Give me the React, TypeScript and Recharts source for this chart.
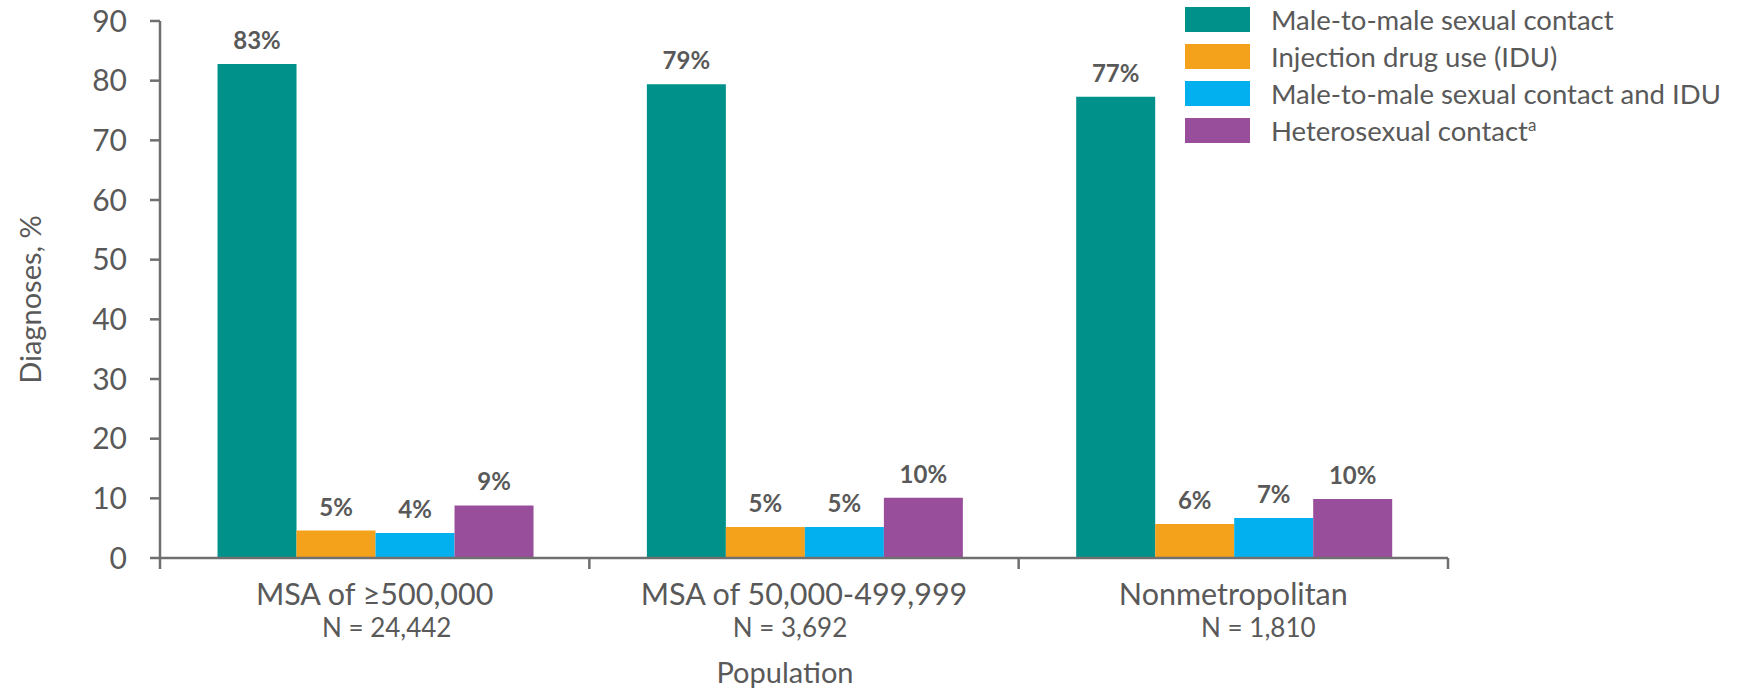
import { BarChart, Bar, XAxis, YAxis, Legend, LabelList } from "recharts";

const categories = ["MSA of ≥500,000", "MSA of 50,000-499,999", "Nonmetropolitan"];
const sampleSizes = ["N = 24,442", "N = 3,692", "N = 1,810"];
const maleToMale = [82.8, 79.4, 77.3];
const injectionDrugUse = [4.6, 5.2, 5.7];
const maleToMaleAndIdu = [4.2, 5.2, 6.7];
const heterosexual = [8.8, 10.1, 9.9];
const yTicks = [0, 10, 20, 30, 40, 50, 60, 70, 80, 90];

const seriesNames = [
    "Male-to-male sexual contact",
    "Injection drug use (IDU)",
    "Male-to-male sexual contact and IDU",
    "Heterosexual contact",
];
const seriesKeys = ["msm", "idu", "msmIdu", "hetero"];
const seriesColors = ["#00918A", "#F4A11C", "#02B0EF", "#984E9B"];

const data = categories.map((name, i) => ({
    name,
    n: sampleSizes[i],
    msm: maleToMale[i],
    idu: injectionDrugUse[i],
    msmIdu: maleToMaleAndIdu[i],
    hetero: heterosexual[i],
}));

const FONT = "Lato, 'Open Sans', sans-serif";
const TEXT = "#595959";
const AXIS = "#6f6f6f";
// small shifts of the "N = ..." lines, as in the original slide
const nShift = [12, -14, 25];

function CategoryTick(props: any) {
    const { x, y, payload, index, width, visibleTicksCount } = props;
    const half = width / visibleTicksCount / 2;
    const row = data[index];
    return (
        <g>
            <line x1={x - half} y1={y} x2={x - half} y2={y + 11} stroke={AXIS} strokeWidth={2.5} />
            {index === visibleTicksCount - 1 && (
                <line x1={x + half} y1={y} x2={x + half} y2={y + 11} stroke={AXIS} strokeWidth={2.5} />
            )}
            <text x={x} y={y + 47} textAnchor="middle" fill={TEXT} fontSize={30.5} fontFamily={FONT}>
                {payload.value}
            </text>
            <text x={x + nShift[index]} y={y + 79} textAnchor="middle" fill={TEXT} fontSize={26} fontFamily={FONT}>
                {row ? row.n : ""}
            </text>
        </g>
    );
}

function LegendContent() {
    return (
        <div style={{ fontFamily: FONT }}>
            {seriesNames.map((name, i) => (
                <div key={name} style={{ display: "flex", alignItems: "center", height: 37 }}>
                    <span style={{ width: 65, height: 25, background: seriesColors[i], display: "inline-block", marginRight: 21 }} />
                    <span style={{ fontSize: 27.5, color: TEXT, whiteSpace: "nowrap" }}>
                        {i === 3 ? (
                            <>
                                {name}
                                <sup style={{ fontSize: 17 }}>a</sup>
                            </>
                        ) : (
                            name
                        )}
                    </span>
                </div>
            ))}
        </div>
    );
}

function App() {
    return (
        <div style={{ position: "absolute", left: 0, top: 0, background: "#fff" }}>
            <BarChart
                width={1746}
                height={691}
                data={data}
                margin={{ top: 21, right: 298, bottom: 43, left: 0 }}
                barCategoryGap="13.4%"
                barGap={0}
            >
                <YAxis
                    width={160}
                    domain={[0, 90]}
                    ticks={yTicks}
                    interval={0}
                    tickSize={10}
                    tickMargin={23}
                    axisLine={{ stroke: AXIS, strokeWidth: 2.5 }}
                    tickLine={{ stroke: AXIS, strokeWidth: 2.5 }}
                    tick={{ fill: TEXT, fontSize: 30, fontFamily: FONT }}
                    label={{
                        content: (p: any) => {
                            const vb = p.viewBox;
                            const cx = vb.x + 29;
                            const cy = vb.y + vb.height / 2 + 10;
                            return (
                                <text
                                    x={cx}
                                    y={cy}
                                    transform={`rotate(-90, ${cx}, ${cy})`}
                                    textAnchor="middle"
                                    dominantBaseline="central"
                                    fill={TEXT}
                                    fontSize={29}
                                    fontFamily={FONT}
                                >
                                    Diagnoses, %
                                </text>
                            );
                        },
                    }}
                />
                <XAxis
                    dataKey="name"
                    height={90}
                    interval={0}
                    tickSize={0}
                    tickMargin={0}
                    tickLine={false}
                    axisLine={{ stroke: AXIS, strokeWidth: 2.5 }}
                    tick={<CategoryTick />}
                    label={{
                        content: (p: any) => {
                            const vb = p.viewBox;
                            return (
                                <text
                                    x={vb.x + vb.width / 2 - 19}
                                    y={vb.y + 125}
                                    textAnchor="middle"
                                    fill={TEXT}
                                    fontSize={29}
                                    fontFamily={FONT}
                                >
                                    Population
                                </text>
                            );
                        },
                    }}
                />
                <Legend
                    layout="vertical"
                    align="center"
                    verticalAlign="middle"
                    wrapperStyle={{ left: 1185, top: 1, width: 560 }}
                    content={<LegendContent />}
                />
                {seriesKeys.map((key, i) => (
                    <Bar key={key} dataKey={key} name={seriesNames[i]} fill={seriesColors[i]} isAnimationActive={false}>
                        <LabelList
                            dataKey={key}
                            position="top"
                            offset={15}
                            formatter={(v: any) => `${Math.round(Number(v))}%`}
                            style={{ fill: TEXT, fontSize: 24, fontWeight: 700, fontFamily: FONT }}
                        />
                    </Bar>
                ))}
            </BarChart>
        </div>
    );
}

export default App;
